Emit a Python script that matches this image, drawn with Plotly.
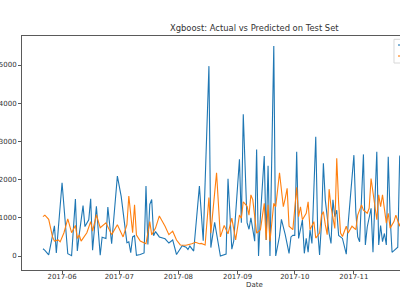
import plotly.graph_objects as go

# ---- data ----
actual_dates = [
    "2017-05-22", "2017-05-23", "2017-05-25", "2017-05-28", "2017-05-29", "2017-06-01",
    "2017-06-04", "2017-06-06", "2017-06-08", "2017-06-09", "2017-06-10", "2017-06-12",
    "2017-06-13", "2017-06-15", "2017-06-16", "2017-06-17", "2017-06-19", "2017-06-21",
    "2017-06-22", "2017-06-24", "2017-06-25", "2017-06-27", "2017-06-30", "2017-07-02",
    "2017-07-05", "2017-07-06", "2017-07-07", "2017-07-08", "2017-07-09", "2017-07-10",
    "2017-07-12", "2017-07-14", "2017-07-15", "2017-07-16", "2017-07-17", "2017-07-18",
    "2017-07-19", "2017-07-20", "2017-07-22", "2017-07-25", "2017-07-27", "2017-07-29",
    "2017-07-31", "2017-08-03", "2017-08-05", "2017-08-06", "2017-08-07", "2017-08-09",
    "2017-08-12", "2017-08-14", "2017-08-17", "2017-08-18", "2017-08-20", "2017-08-23",
    "2017-08-26", "2017-08-27", "2017-08-29", "2017-08-30", "2017-09-02", "2017-09-03",
    "2017-09-04", "2017-09-06", "2017-09-07", "2017-09-08", "2017-09-10", "2017-09-11",
    "2017-09-12", "2017-09-13", "2017-09-15", "2017-09-16", "2017-09-17", "2017-09-18",
    "2017-09-20", "2017-09-21", "2017-09-23", "2017-09-24", "2017-09-26", "2017-09-28",
    "2017-09-29", "2017-09-30", "2017-10-01", "2017-10-02", "2017-10-03", "2017-10-04",
    "2017-10-05", "2017-10-06", "2017-10-07", "2017-10-08", "2017-10-09", "2017-10-10",
    "2017-10-12", "2017-10-13", "2017-10-14", "2017-10-15", "2017-10-16", "2017-10-17",
    "2017-10-18", "2017-10-19", "2017-10-20", "2017-10-21", "2017-10-22", "2017-10-23",
    "2017-10-24", "2017-10-26", "2017-10-28", "2017-10-29", "2017-11-01", "2017-11-02",
    "2017-11-03", "2017-11-04", "2017-11-06", "2017-11-07", "2017-11-08", "2017-11-10",
    "2017-11-11", "2017-11-13", "2017-11-14", "2017-11-15", "2017-11-16", "2017-11-17",
    "2017-11-18", "2017-11-19", "2017-11-20", "2017-11-21", "2017-11-22", "2017-11-24",
    "2017-11-25", "2017-11-26",
]
actual_values = [
    190, 150, 30, 790, 80, 1920,
    60, 10, 1490, 130, 560, 1320,
    770, 950, 1500, 150, 1300, 20,
    490, 460, 1280, 320, 2090, 1560,
    350, 370, 90, 500, 530, 20,
    40, 80, 1830, 300, 1350, 1480,
    530, 640, 500, 450, 340, 420,
    40, 270, 230, 170, 260, 130,
    1830, 400, 4970, 220, 880, 0,
    50, 2020, 180, 390, 2530, 870,
    3710, 870, 700, 1000, 390, 2790,
    0, 1050, 2620, 420, 2360, 0,
    5500, 0, 520, 960, 560, 70,
    500, 540, 540, 2730, 460, 680,
    940, 70, 460, 100, 680, 330,
    3120, 680, 30, 850, 2430, 1470,
    940, 590, 330, 1470, 1030, 1200,
    540, 460, 50, 850, 2640, 1160,
    500, 375, 2660, 290, 760, 1250,
    100, 2730, 290, 800, 375, 590,
    290, 2600, 1030, 100, 140, 230,
    2600, 2700,
]

pred_dates = [
    "2017-05-22", "2017-05-23", "2017-05-25", "2017-05-27", "2017-05-28", "2017-05-30",
    "2017-05-31", "2017-06-02", "2017-06-04", "2017-06-06", "2017-06-08", "2017-06-09",
    "2017-06-10", "2017-06-11", "2017-06-14", "2017-06-16", "2017-06-17", "2017-06-19",
    "2017-06-21", "2017-06-24", "2017-06-27", "2017-06-30", "2017-07-03", "2017-07-05",
    "2017-07-06", "2017-07-08", "2017-07-09", "2017-07-10", "2017-07-12", "2017-07-15",
    "2017-07-17", "2017-07-18", "2017-07-20", "2017-07-22", "2017-07-25", "2017-07-27",
    "2017-07-29", "2017-07-31", "2017-08-02", "2017-08-05", "2017-08-08", "2017-08-10",
    "2017-08-12", "2017-08-13", "2017-08-15", "2017-08-17", "2017-08-18", "2017-08-21",
    "2017-08-23", "2017-08-25", "2017-08-27", "2017-08-29", "2017-08-31", "2017-09-02",
    "2017-09-03", "2017-09-04", "2017-09-06", "2017-09-07", "2017-09-08", "2017-09-09",
    "2017-09-11", "2017-09-13", "2017-09-15", "2017-09-16", "2017-09-17", "2017-09-18",
    "2017-09-20", "2017-09-21", "2017-09-23", "2017-09-25", "2017-09-26", "2017-09-27",
    "2017-09-28", "2017-09-30", "2017-10-02", "2017-10-03", "2017-10-04", "2017-10-05",
    "2017-10-07", "2017-10-08", "2017-10-09", "2017-10-11", "2017-10-12", "2017-10-14",
    "2017-10-15", "2017-10-16", "2017-10-17", "2017-10-18", "2017-10-19", "2017-10-20",
    "2017-10-22", "2017-10-23", "2017-10-24", "2017-10-25", "2017-10-26", "2017-10-28",
    "2017-10-29", "2017-10-31", "2017-11-02", "2017-11-03", "2017-11-05", "2017-11-06",
    "2017-11-08", "2017-11-09", "2017-11-10", "2017-11-12", "2017-11-13", "2017-11-14",
    "2017-11-15", "2017-11-16", "2017-11-18", "2017-11-19", "2017-11-20", "2017-11-22",
    "2017-11-23", "2017-11-25", "2017-11-26",
]
pred_values = [
    1030, 1070, 960, 500, 390, 420,
    370, 610, 970, 610, 800, 460,
    550, 390, 610, 900, 650, 1080,
    740, 870, 560, 820, 500, 820,
    1570, 610, 1340, 550, 390, 320,
    900, 550, 730, 1050, 780, 560,
    650, 420, 290, 280, 320, 360,
    320, 330, 290, 1530, 600, 2180,
    500, 800, 580, 990, 420, 1070,
    990, 1420, 1300, 1070, 1600, 1470,
    600, 690, 1380, 420, 1340, 380,
    1380, 1290, 2180, 1290, 1510, 1770,
    780, 690, 1800, 1030, 1290, 950,
    1120, 1420, 690, 900, 470, 600,
    1070, 1160, 820, 560, 1750, 1290,
    720, 2560, 1380, 600, 510, 780,
    600, 780, 690, 1070, 1340, 1200,
    1120, 1250, 2030, 1340, 950, 1600,
    1290, 1600, 860, 1120, 730, 900,
    1070, 780, 1000,
]

series_names = ["Actual", "Predicted"]
series_colors = ["#1f77b4", "#ff7f0e"]

y_ticks = [0, 1000, 2000, 3000, 4000, 5000]
x_ticks = ["2017-06-01", "2017-07-01", "2017-08-01", "2017-09-01",
           "2017-10-01", "2017-11-01", "2017-12-01"]
x_tick_labels = ["2017-06", "2017-07", "2017-08", "2017-09",
                 "2017-10", "2017-11", "2017-12"]

title_text = "Xgboost: Actual vs Predicted on Test Set"
x_label = "Date"

# ---- figure ----
FONT = "DejaVu Sans"
TXT = "#333333"
SPINE = "#5a5a5a"

fig = go.Figure()
fig.add_trace(go.Scatter(x=actual_dates, y=actual_values, mode="lines", name=series_names[0],
                         line=dict(color=series_colors[0], width=1.1), showlegend=False))
fig.add_trace(go.Scatter(x=pred_dates, y=pred_values, mode="lines", name=series_names[1],
                         line=dict(color=series_colors[1], width=1.1), showlegend=False))

# matplotlib-style legend in the upper-right corner (mostly beyond the crop)
shapes = [
    dict(type="rect", xref="paper", yref="paper", x0=0.9841, x1=1.2, y0=0.8846, y1=0.9859,
         line=dict(color="#d8d8d8", width=1), fillcolor="white", layer="above"),
]
legend_rows = [0.9615, 0.9145]
annotations = [
    dict(text=title_text, xref="paper", yref="paper", x=0.6164, y=1,
         xanchor="center", yanchor="bottom", yshift=1, showarrow=False,
         font=dict(size=8.4, color=TXT, family=FONT)),
    dict(text=x_label, xref="paper", yref="paper", x=0.6164, y=0,
         xanchor="center", yanchor="middle", yshift=-15, showarrow=False,
         font=dict(size=7, color=TXT, family=FONT)),
]
for name, color, yy in zip(series_names, series_colors, legend_rows):
    shapes.append(dict(type="line", xref="paper", yref="paper", x0=0.9947, x1=1.06,
                       y0=yy, y1=yy, line=dict(color=color, width=1.1), layer="above"))
    annotations.append(dict(text=name, xref="paper", yref="paper", x=1.07, y=yy,
                            xanchor="left", yanchor="middle", showarrow=False,
                            font=dict(size=7, color=TXT, family=FONT)))

fig.update_layout(
    width=400, height=300,
    margin=dict(l=22, r=0, t=36, b=30, autoexpand=False),
    paper_bgcolor="white", plot_bgcolor="white",
    font=dict(family=FONT, size=7, color=TXT),
    showlegend=False,
    xaxis=dict(range=["2017-05-11", "2017-11-25 04:00"], showgrid=False, zeroline=False,
               tickmode="array", tickvals=x_ticks, ticktext=x_tick_labels,
               ticks="outside", ticklen=3, tickwidth=1, tickcolor=SPINE,
               ticklabelstandoff=-3,
               showline=True, linecolor=SPINE, linewidth=1, mirror=True,
               tickfont=dict(size=7, color=TXT)),
    yaxis=dict(range=[-366, 5759], showgrid=False, zeroline=False,
               tickmode="array", tickvals=y_ticks,
               ticks="outside", ticklen=3, tickwidth=1, tickcolor=SPINE,
               showline=True, linecolor=SPINE, linewidth=1, mirror=False,
               tickfont=dict(size=7, color=TXT)),
    shapes=shapes,
    annotations=annotations,
)

fig.write_html("out.html")
